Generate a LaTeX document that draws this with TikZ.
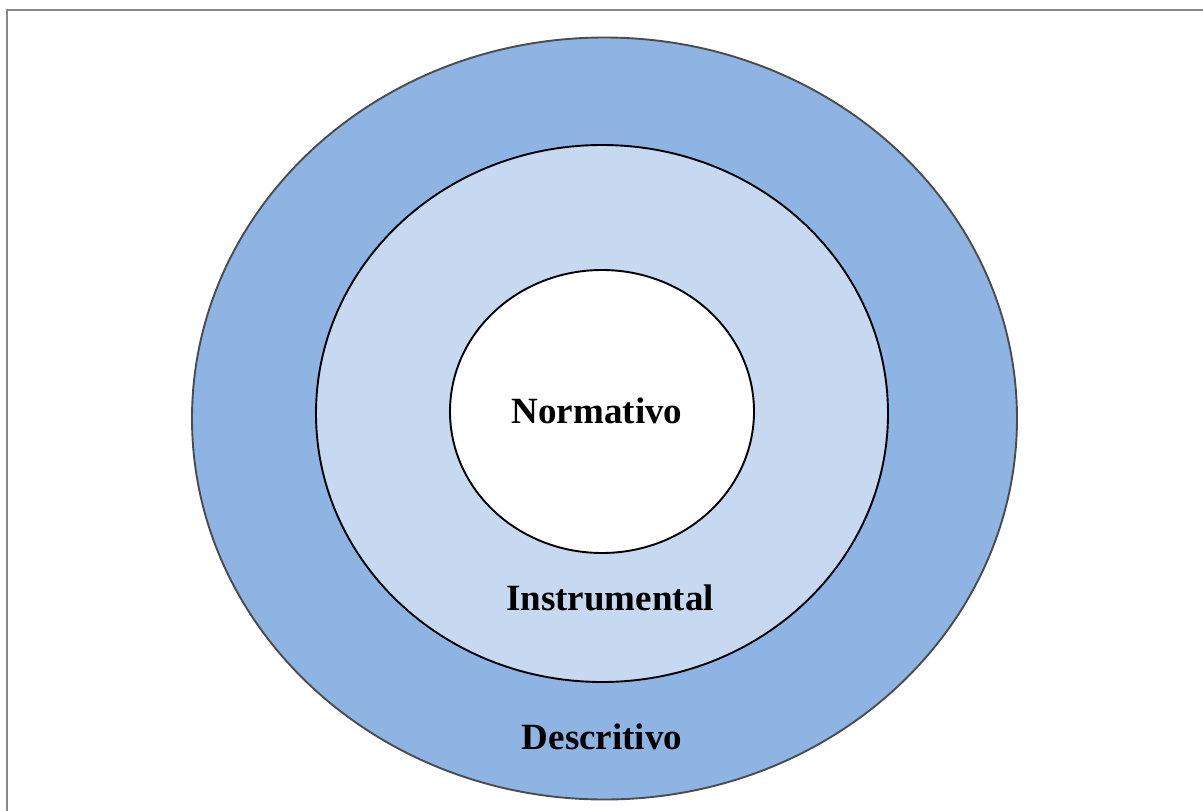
\documentclass[tikz,border=0pt]{standalone}
\usepackage{fontspec}
\setmainfont{Liberation Serif}
\definecolor{outerblue}{RGB}{142,180,227}
\definecolor{midblue}{RGB}{198,217,241}
\definecolor{frameg}{RGB}{136,136,136}
\begin{document}
\begin{tikzpicture}[x=1pt,y=-1pt,
  ring/.style={draw=black,line width=1.9pt},
  lbl/.style={font=\fontsize{37}{40}\selectfont\bfseries,inner sep=0pt}]
\useasboundingbox (0,0) rectangle (1203,811);
\draw[frameg,line width=2pt] (6.5,811) -- (6.5,9.5) -- (1203,9.5);
\filldraw[ring,fill=outerblue,draw=black!70] (604.5,418.5) ellipse [x radius=412.5,y radius=381];
\filldraw[ring,fill=midblue] (602,413.5) ellipse [x radius=286,y radius=268.5];
\filldraw[ring,fill=white] (602,411.5) ellipse [x radius=152,y radius=141.5];
\node[lbl] (norm) at (597,411) {Normativo};
\node[lbl] (instr) at (610,598) {Instrumental};
\node[lbl] (desc) at (602,737) {Descritivo};
\end{tikzpicture}
\end{document}
